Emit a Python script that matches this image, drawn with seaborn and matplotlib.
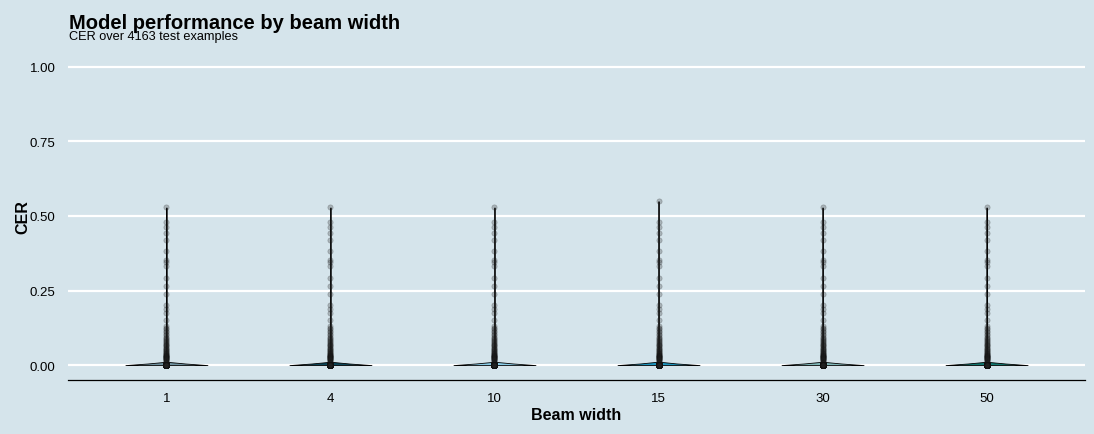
import matplotlib
matplotlib.use("Agg")
import matplotlib.pyplot as plt
import numpy as np
import pandas as pd
import seaborn as sns

# beam widths compared, 4163 test examples each
beam_widths = ["1", "4", "10", "15", "30", "50"]
n_examples = 4163
palette = ["#6794a7", "#014d64", "#7ad2f6", "#01a2d9", "#76c0c1", "#00887d"]

# non-zero CER values (same tail for most beams)
cer_tail = [0.529, 0.479, 0.462, 0.442, 0.420, 0.381, 0.352, 0.345, 0.331, 0.291,
            0.266, 0.238, 0.201, 0.188, 0.174, 0.151, 0.131, 0.125, 0.12, 0.115,
            0.11, 0.105, 0.10, 0.095, 0.09, 0.087, 0.083, 0.08, 0.077, 0.074,
            0.071, 0.068, 0.066, 0.063, 0.06, 0.058, 0.055, 0.053, 0.05, 0.048,
            0.046, 0.044, 0.042, 0.04, 0.038, 0.036, 0.035, 0.033, 0.032, 0.031,
            0.03, 0.029, 0.028, 0.027, 0.026, 0.025, 0.024, 0.023, 0.022, 0.021,
            0.02, 0.018, 0.016, 0.014, 0.012, 0.01, 0.008, 0.006]
cer_top_15 = 0.55

rows = []
for b in beam_widths:
    tail = list(cer_tail)
    if b == "15":
        tail[0] = cer_top_15
    vals = tail + [0.0] * (n_examples - len(tail))
    rows.append(pd.DataFrame({"beam": b, "cer": vals}))
df = pd.concat(rows, ignore_index=True)

bg = "#d5e4eb"
sns.set_theme(style="white", rc={"axes.facecolor": bg, "figure.facecolor": bg,
                                 "text.color": "black", "axes.labelcolor": "black",
                                 "xtick.color": "black", "ytick.color": "black"})
plt.rcParams["font.family"] = ["Liberation Sans", "DejaVu Sans"]

fig, ax = plt.subplots(figsize=(10.94, 4.35), dpi=100)
fig.subplots_adjust(left=68 / 1094, right=1085 / 1094, top=1 - 53 / 435, bottom=1 - 381 / 435)

sns.violinplot(data=df, x="beam", y="cer", hue="beam", order=beam_widths,
               palette=palette, legend=False, cut=0, inner=None, width=0.5,
               linewidth=0.6, linecolor="black", ax=ax)
sns.stripplot(data=df, x="beam", y="cer", order=beam_widths, jitter=False,
              color="#222222", alpha=0.25, size=3.8, linewidth=0.5, edgecolor="#111111", ax=ax)

ax.set_ylim(-0.05, 1.05)
ax.set_xlim(-0.6, 5.6)
ax.set_yticks([0, 0.25, 0.5, 0.75, 1.0])
ax.set_yticklabels(["0.00", "0.25", "0.50", "0.75", "1.00"])
ax.yaxis.grid(True, color="white", linewidth=1.6)
ax.set_axisbelow(True)
for s in ["left", "right", "top"]:
    ax.spines[s].set_visible(False)
ax.spines["bottom"].set_color("black")
ax.spines["bottom"].set_linewidth(0.9)
ax.tick_params(axis="x", direction="in", length=4, width=0.8, color="black", pad=9, labelsize=9.5)
ax.tick_params(axis="y", length=0, pad=9, labelsize=9.5)

ax.set_xlabel("Beam width", fontsize=11.5, fontweight="bold")
ax.set_ylabel("CER", fontsize=11.5, fontweight="bold")
ax.xaxis.set_label_coords(0.5, -0.104)
ax.xaxis.label.set_va("center")
ax.yaxis.set_label_coords(-0.044, 0.50)
ax.yaxis.label.set_va("center")

fig.text(69 / 1094, 1 - 29 / 435, "Model performance by beam width", fontsize=14.5, fontweight="bold", va="baseline")
fig.text(69 / 1094, 1 - 40 / 435, "CER over 4163 test examples", fontsize=9.2, va="baseline")

fig.savefig("out.png", dpi=100, facecolor=bg)
